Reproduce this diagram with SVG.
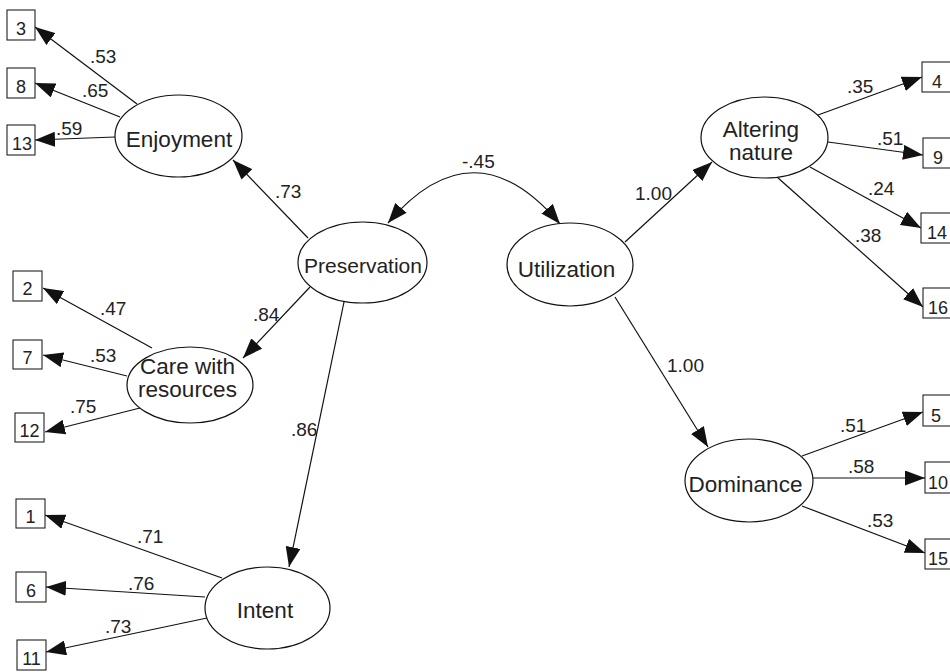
<svg xmlns="http://www.w3.org/2000/svg" width="950" height="672" viewBox="0 0 950 672">
<defs>
<style>
.box{fill:#fff;stroke:#222;stroke-width:1.1}
.lat{fill:#fff;stroke:#111;stroke-width:1.2}
.bt{font-family:"Liberation Sans",Arial,sans-serif;font-size:18px;fill:#222;text-anchor:middle}
.nt{font-family:"Liberation Sans",Arial,sans-serif;font-size:22.5px;fill:#222;text-anchor:middle}
.lb{font-family:"Liberation Sans",Arial,sans-serif;font-size:19px;fill:#222}
.cn line,.cn path{stroke:#111;stroke-width:1.2;fill:none;marker-end:url(#ah)}
</style>
<marker id="ah" viewBox="0 0 20 15" refX="20" refY="7.5" markerWidth="20" markerHeight="15" markerUnits="userSpaceOnUse" orient="auto-start-reverse">
<path d="M0,0 L20,7.5 L0,15 z" fill="#111"/>
</marker>
</defs>
<rect width="950" height="672" fill="#fff"/>

<g id="connectors" class="cn">
<line x1="137" y1="104" x2="35" y2="27"/>
<line x1="120" y1="117" x2="35" y2="83"/>
<line x1="115" y1="137" x2="35" y2="140"/>
<line x1="308" y1="238" x2="233" y2="160"/>
<line x1="310" y1="287" x2="243" y2="358"/>
<line x1="344" y1="302" x2="289" y2="567"/>
<line x1="152" y1="348" x2="43" y2="288"/>
<line x1="127" y1="376" x2="43" y2="355"/>
<line x1="140" y1="408" x2="45" y2="432"/>
<line x1="222" y1="578" x2="45" y2="515"/>
<line x1="205" y1="597" x2="46" y2="587"/>
<line x1="207" y1="618" x2="46" y2="652"/>
<line x1="625" y1="242" x2="712" y2="162"/>
<line x1="615" y1="297" x2="708" y2="447"/>
<line x1="818" y1="115" x2="922" y2="77"/>
<line x1="828" y1="142" x2="923" y2="155"/>
<line x1="810" y1="167" x2="921" y2="228"/>
<line x1="777" y1="177" x2="923" y2="307"/>
<line x1="802" y1="456" x2="923" y2="412"/>
<line x1="813" y1="478" x2="925" y2="478"/>
<line x1="802" y1="506" x2="925" y2="553"/>
<path d="M388,223 Q474,122 560,224" style="marker-start:url(#ah)"/>
</g>

<g id="labels">
<text class="lb" x="90" y="63">.53</text>
<text class="lb" x="82" y="97">.65</text>
<text class="lb" x="56" y="135">.59</text>
<text class="lb" x="275" y="198">.73</text>
<text class="lb" x="462" y="168">-.45</text>
<text class="lb" x="100" y="315">.47</text>
<text class="lb" x="90" y="362">.53</text>
<text class="lb" x="70" y="413">.75</text>
<text class="lb" x="253" y="321">.84</text>
<text class="lb" x="291" y="436">.86</text>
<text class="lb" x="137" y="543">.71</text>
<text class="lb" x="128" y="590">.76</text>
<text class="lb" x="105" y="633">.73</text>
<text class="lb" x="635" y="200">1.00</text>
<text class="lb" x="667" y="372">1.00</text>
<text class="lb" x="847" y="93">.35</text>
<text class="lb" x="877" y="145">.51</text>
<text class="lb" x="868" y="195">.24</text>
<text class="lb" x="855" y="242">.38</text>
<text class="lb" x="840" y="432">.51</text>
<text class="lb" x="848" y="473">.58</text>
<text class="lb" x="867" y="527">.53</text>
</g>

<g id="enjoyment"><ellipse class="lat" cx="178.5" cy="136" rx="63.5" ry="41"/><text class="nt" x="179" y="147">Enjoyment</text></g>
<g id="preservation"><ellipse class="lat" cx="362.5" cy="262.5" rx="64.5" ry="40.5"/><text class="nt" x="363" y="273" style="font-size:21px">Preservation</text></g>
<g id="utilization"><ellipse class="lat" cx="570" cy="264.5" rx="63" ry="41.5"/><text class="nt" x="566.5" y="277">Utilization</text></g>
<g id="care"><ellipse class="lat" cx="190" cy="385" rx="63" ry="38"/><text class="nt" x="187.5" y="374">Care with</text><text class="nt" x="187.5" y="397">resources</text></g>
<g id="intent"><ellipse class="lat" cx="267.5" cy="608" rx="62.5" ry="41"/><text class="nt" x="265" y="618">Intent</text></g>
<g id="altering"><ellipse class="lat" cx="764.5" cy="137.5" rx="63.5" ry="40.5"/><text class="nt" x="761" y="137">Altering</text><text class="nt" x="761" y="160">nature</text></g>
<g id="dominance"><ellipse class="lat" cx="749" cy="480.5" rx="64" ry="41.5"/><text class="nt" x="745.5" y="492">Dominance</text></g>

<g id="item3"><rect class="box" x="7" y="10" width="28" height="30"/><text class="bt" x="21" y="35">3</text></g>
<g id="item8"><rect class="box" x="7" y="68" width="28" height="30"/><text class="bt" x="21" y="93">8</text></g>
<g id="item13"><rect class="box" x="7" y="125" width="28" height="30"/><text class="bt" x="22" y="150">13</text></g>
<g id="item2"><rect class="box" x="13" y="271" width="29" height="30"/><text class="bt" x="27.5" y="295">2</text></g>
<g id="item7"><rect class="box" x="13" y="340" width="29" height="29"/><text class="bt" x="27.5" y="364">7</text></g>
<g id="item12"><rect class="box" x="15" y="413" width="29" height="29"/><text class="bt" x="29.5" y="437">12</text></g>
<g id="item1"><rect class="box" x="16" y="499" width="29" height="29"/><text class="bt" x="30.5" y="523">1</text></g>
<g id="item6"><rect class="box" x="16" y="572" width="30" height="30"/><text class="bt" x="31" y="597">6</text></g>
<g id="item11"><rect class="box" x="17" y="640" width="29" height="30"/><text class="bt" x="31.5" y="665">11</text></g>
<g id="item4"><rect class="box" x="922" y="62" width="30" height="30"/><text class="bt" x="937" y="88">4</text></g>
<g id="item9"><rect class="box" x="923" y="138" width="30" height="30"/><text class="bt" x="938" y="164">9</text></g>
<g id="item14"><rect class="box" x="921" y="213" width="30" height="30"/><text class="bt" x="937" y="239">14</text></g>
<g id="item16"><rect class="box" x="923" y="288" width="30" height="30"/><text class="bt" x="938" y="314">16</text></g>
<g id="item5"><rect class="box" x="923" y="395" width="30" height="31"/><text class="bt" x="936" y="422">5</text></g>
<g id="item10"><rect class="box" x="925" y="462" width="30" height="31"/><text class="bt" x="938" y="489">10</text></g>
<g id="item15"><rect class="box" x="925" y="539" width="30" height="30"/><text class="bt" x="938" y="565">15</text></g>
</svg>
